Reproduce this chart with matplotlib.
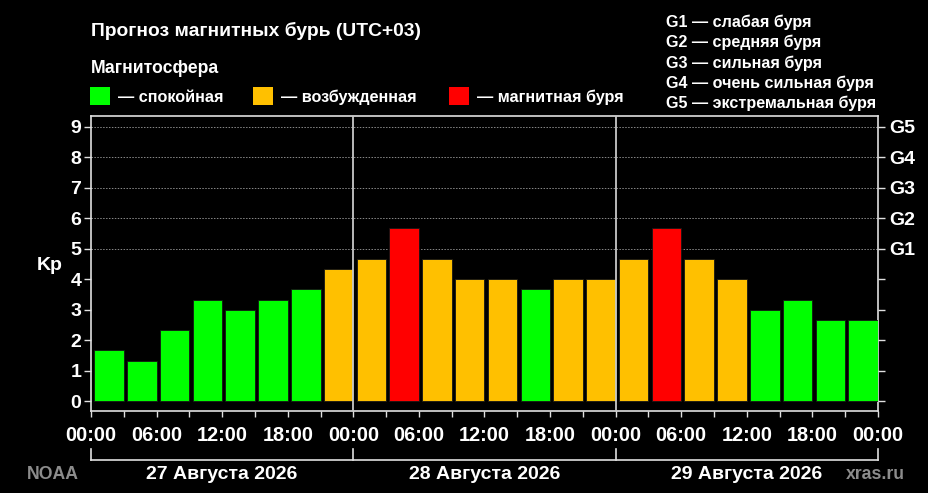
import matplotlib
matplotlib.use("Agg")
import matplotlib.pyplot as plt
from matplotlib.patches import Rectangle

plt.rcParams['font.family'] = ['Liberation Sans', 'DejaVu Sans']
plt.rcParams['font.weight'] = 'bold'

# Kp прогноз по 3-часовым интервалам (UTC+03)
kp_values = [1.67, 1.33, 2.33, 3.33, 3.00, 3.33, 3.67, 4.33,
             4.67, 5.67, 4.67, 4.00, 4.00, 3.67, 4.00, 4.00,
             4.67, 5.67, 4.67, 4.00, 3.00, 3.33, 2.67, 2.67]
day_labels = ["27 Августа 2026", "28 Августа 2026", "29 Августа 2026"]
time_labels = ["00:00", "06:00", "12:00", "18:00"] * 3 + ["00:00"]
g_labels = ["G1", "G2", "G3", "G4", "G5"]
g_descr = ["слабая буря", "средняя буря", "сильная буря",
           "очень сильная буря", "экстремальная буря"]
legend_items = [("— спокойная", "#00ff00"),
                ("— возбужденная", "#ffc000"),
                ("— магнитная буря", "#ff0000")]

W, H = 929, 493


def kp_color(v):
    if v >= 5:
        return "#ff0000"
    if v >= 4:
        return "#ffc000"
    return "#00ff00"


def fx(px):
    return px / W


def fy(py):
    return 1 - py / H


fig = plt.figure(figsize=(9.29, 4.93), dpi=100, facecolor="black")
ax = fig.add_axes([0.098, 0.166, 0.847, 0.599], facecolor="black")

hours = [3 * i + 1.65 for i in range(len(kp_values))]
ax.bar(hours, kp_values, width=2.7, color=[kp_color(v) for v in kp_values],
       edgecolor="#151515", linewidth=0.6, zorder=3)

ax.set_xlim(0, 72)
ax.set_ylim(-0.33, 9.36)

for y in range(5, 10):
    ax.axhline(y, color="#8a8a8a", linestyle=(0, (1.5, 1.5)), linewidth=0.7, zorder=1)
for x in (24, 48):
    ax.axvline(x, color="#c8c8c8", linewidth=1.3, zorder=4)

for s in ax.spines.values():
    s.set_color("#e0e0e0")
    s.set_linewidth(1.2)

ax.set_yticks(range(10))
ax.set_yticklabels([str(i) for i in range(10)])
ax.set_xticks(range(0, 73, 3))
ax.set_xticklabels([time_labels[i // 6] if i % 6 == 0 else "" for i in range(0, 73, 3)])
ax.tick_params(axis="both", colors="#e0e0e0", labelcolor="white",
               labelsize=14, length=5, width=1)
ax.tick_params(axis="x", pad=6, labelsize=14.4, length=4.5)
ax.tick_params(axis="y", pad=2)

ax2 = ax.twinx()
ax2.set_ylim(ax.get_ylim())
ax2.set_yticks(range(10))
ax2.set_yticklabels([""] * 5 + g_labels)
ax2.tick_params(axis="y", colors="#e0e0e0", labelcolor="white",
                labelsize=14, length=5, width=1, pad=3)
for s in ax2.spines.values():
    s.set_visible(False)

ax.set_ylabel("Kp", color="white", fontsize=14, fontweight="bold", rotation=0,
              ha="center", va="center")
ax.yaxis.set_label_coords(-0.052, 0.494)

# скобка с датами под осью
tr = ax.get_xaxis_transform()
ax.plot([0, 72], [-0.166, -0.166], transform=tr, color="#e0e0e0", lw=1.2, clip_on=False)
for x in (0, 24, 48, 72):
    ax.plot([x, x], [-0.166, -0.128], transform=tr, color="#e0e0e0", lw=1.2, clip_on=False)
for i, lbl in enumerate(day_labels):
    ax.text(12 + 24 * i, -0.230, lbl, transform=tr, color="white", fontsize=14,
            ha="center", va="baseline")

fig.text(fx(27), fy(479), "NOAA", color="#8c8c8c", fontsize=12.7, ha="left", va="baseline")
fig.text(fx(905), fy(479), "xras.ru", color="#8c8c8c", fontsize=12.7, ha="right", va="baseline")

fig.text(fx(91), fy(36), "Прогноз магнитных бурь (UTC+03)", color="white",
         fontsize=13.9, ha="left", va="baseline")
fig.text(fx(91), fy(73), "Магнитосфера", color="white",
         fontsize=12.7, ha="left", va="baseline")

sq_x = [90, 253, 449]
for (txt, col), x0 in zip(legend_items, sq_x):
    fig.patches.append(Rectangle((fx(x0), fy(105)), 20 / W, 18 / H,
                                 transform=fig.transFigure, facecolor=col, edgecolor="none"))
    fig.text(fx(x0 + 28), fy(102), txt, color="white", fontsize=11.7,
             ha="left", va="baseline")

for i, (g, d) in enumerate(zip(g_labels, g_descr)):
    fig.text(fx(666), fy(27 + 20.3 * i), f"{g} — {d}", color="white",
             fontsize=11.6, ha="left", va="baseline")

fig.savefig("out.png", dpi=100, facecolor="black")
